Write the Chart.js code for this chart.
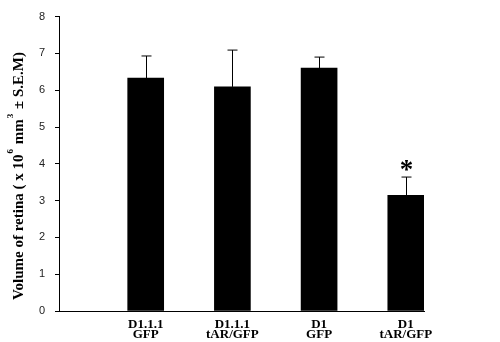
<!DOCTYPE html>
<html>
<head>
<meta charset="utf-8">
<script src="https://cdn.jsdelivr.net/npm/chart.js@4.4.1/dist/chart.umd.min.js"></script>
<style>
  html, body { margin: 0; padding: 0; background: #fff; }
  #wrap { width: 500px; height: 342px; }
</style>
</head>
<body>
<div id="wrap"><canvas id="retinaChart" width="500" height="342"></canvas></div>
<script>
// data
const groups = [["D1.1.1", "GFP"], ["D1.1.1", "tAR/GFP"], ["D1", "GFP"], ["D1", "tAR/GFP"]];
const groupPos = [1, 2, 3, 4];
const volumes = [6.33, 6.09, 6.60, 3.14];
const semTops = [6.93, 7.09, 6.90, 3.64];
const significant = [false, false, false, true];
const yTicks = [0, 1, 2, 3, 4, 5, 6, 7, 8];

// error bars (upper only) + asterisk
const errorBars = {
  id: 'errorBars',
  afterDatasetsDraw(chart) {
    const ctx = chart.ctx;
    const y = chart.scales.y;
    const meta = chart.getDatasetMeta(0);
    ctx.save();
    ctx.strokeStyle = '#000';
    ctx.lineWidth = 1;
    meta.data.forEach((bar, i) => {
      const x = Math.round(bar.x) + 0.5;
      const yTop = y.getPixelForValue(semTops[i]);
      ctx.beginPath();
      ctx.moveTo(x, bar.y);
      ctx.lineTo(x, yTop);
      ctx.moveTo(x - 5, yTop);
      ctx.lineTo(x + 5, yTop);
      ctx.stroke();
      if (significant[i]) {
        ctx.fillStyle = '#000';
        ctx.font = 'bold 27px "Liberation Serif", serif';
        ctx.textAlign = 'center';
        ctx.textBaseline = 'alphabetic';
        ctx.fillText('*', x, yTop + 1);
      }
    });
    ctx.restore();
  }
};

// y-axis title with superscripts
const yTitle = {
  id: 'yTitle',
  afterDraw(chart) {
    const ctx = chart.ctx;
    const parts = [
      ['Volume of retina ( x 10', false],
      ['6', true],
      [' mm', false],
      ['3', true],
      [' \u00B1 S.E.M)', false]
    ];
    const big = 'bold 15px "Liberation Serif", serif';
    const small = 'bold 9px "Liberation Serif", serif';
    ctx.save();
    let total = 0;
    parts.forEach(p => { ctx.font = p[1] ? small : big; total += ctx.measureText(p[0]).width + (p[1] ? 2 : 0); });
    ctx.translate(23, 176);
    ctx.rotate(-Math.PI / 2);
    ctx.fillStyle = '#000';
    ctx.textBaseline = 'alphabetic';
    ctx.textAlign = 'left';
    let cx = -total / 2;
    parts.forEach(p => {
      ctx.font = p[1] ? small : big;
      ctx.fillText(p[0], cx + (p[1] ? 1 : 0), p[1] ? -10 : 0);
      cx += ctx.measureText(p[0]).width + (p[1] ? 2 : 0);
    });
    ctx.restore();
  }
};

const ctx = document.getElementById('retinaChart').getContext('2d');
const retinaChart = new Chart(ctx, {
  type: 'bar',
  data: {
    datasets: [{
      data: groupPos.map((p, i) => ({ x: p, y: volumes[i] })),
      backgroundColor: '#000',
      borderWidth: 0,
      barThickness: 36
    }]
  },
  options: {
    responsive: false,
    animation: false,
    layout: { padding: { left: 0, right: 76, top: 4, bottom: 0 } },
    plugins: {
      legend: { display: false },
      tooltip: { enabled: false }
    },
    scales: {
      x: {
        type: 'linear',
        offset: false,
        min: 0,
        max: 4.21,
        afterBuildTicks: (scale) => { scale.ticks = groupPos.map(v => ({ value: v })); },
        afterFit: (scale) => { scale.height = 31; },
        grid: { display: false, offset: false },
        border: { display: true, color: '#000', width: 1 },
        ticks: {
          autoSkip: false,
          maxRotation: 0,
          padding: 0,
          color: '#000',
          font: { family: '"Liberation Serif", serif', size: 13, weight: 'bold', lineHeight: 0.8 },
          callback: (v) => groups[v - 1] || ''
        }
      },
      y: {
        min: 0,
        max: 8,
        afterBuildTicks: (scale) => { scale.ticks = yTicks.map(v => ({ value: v })); },
        afterFit: (scale) => { scale.width = 59; },
        grid: { drawOnChartArea: false, drawTicks: true, tickLength: 4, color: '#000' },
        border: { display: true, color: '#000', width: 1 },
        ticks: {
          padding: 10,
          color: '#222',
          font: { family: '"Liberation Sans", Arial, sans-serif', size: 11 }
        }
      }
    }
  },
  plugins: [errorBars, yTitle]
});
</script>
</body>
</html>
